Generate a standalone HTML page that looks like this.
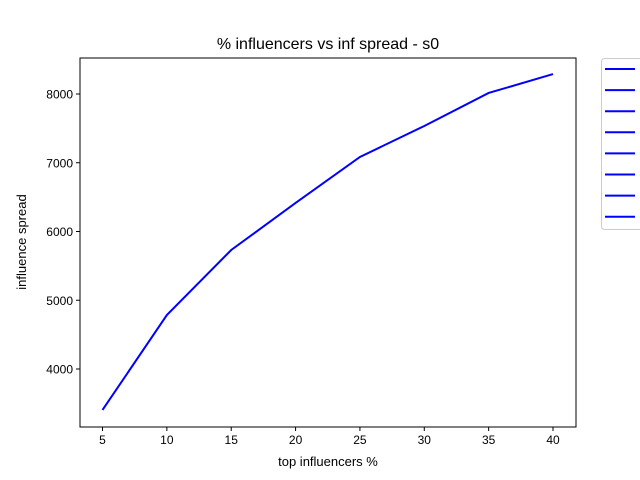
<!DOCTYPE html>
<html><head><meta charset="utf-8"><style>body{margin:0;background:#fff}svg{display:block;font-family:"Liberation Sans","DejaVu Sans",sans-serif}</style></head>
<body>
<svg id="c" width="640" height="480"></svg>
<script>
const categories=[5,10,15,20,25,30,35,40];
const spread=[3404,4785,5731,6415,7084,7535,8015,8290];
const xTicks=[5,10,15,20,25,30,35,40];
const yTicks=[4000,5000,6000,7000,8000];
const legendCount=8;
const NS="http://www.w3.org/2000/svg";
const svg=document.getElementById('c');
function el(t,a,p){const e=document.createElementNS(NS,t);for(const k in a)e.setAttribute(k,a[k]);(p||svg).appendChild(e);return e;}
const L=80,R=576,T=58,B=427;
const x=v=>102.5+(v-5)*(553-102.5)/35;
const y=v=>369-(v-4000)*68.75/1000;
let e;
e=el('text',{x:328,y:49,'text-anchor':'middle','font-size':16});e.textContent='% influencers vs inf spread - s0';


xTicks.forEach(v=>{el('line',{x1:x(v),x2:x(v),y1:B,y2:B+4,stroke:'#000'});
 const t=el('text',{x:x(v),y:B+17,'text-anchor':'middle','font-size':12});t.textContent=v;
 
 });
yTicks.forEach(v=>{el('line',{x1:L-4,x2:L,y1:y(v),y2:y(v),stroke:'#000'});
 const t=el('text',{x:L-7,y:y(v)+4.5,'text-anchor':'end','font-size':12});t.textContent=v;
 
 });
e=el('text',{x:328,y:466,'text-anchor':'middle','font-size':13});e.textContent='top influencers %';


e=el('text',{x:26,y:242,'text-anchor':'middle','font-size':13,transform:'rotate(-90 26 242)'});e.textContent='influence spread';


e=el('polyline',{points:categories.map((c,i)=>x(c)+','+y(spread[i])).join(' '),fill:'none',stroke:'#0000ff','stroke-width':2});


e=el('rect',{x:L,y:T,width:R-L,height:B-T,fill:'none',stroke:'#000','stroke-width':1});


e=el('rect',{x:601.5,y:58.5,width:50,height:171,rx:3,fill:'#fff',stroke:'#ccc'});


for(let i=0;i<legendCount;i++){const l=el('line',{x1:605,x2:635,y1:69+i*21.1,y2:69+i*21.1,stroke:'#0000ff','stroke-width':2});
 
 }
</script>
</body></html>
